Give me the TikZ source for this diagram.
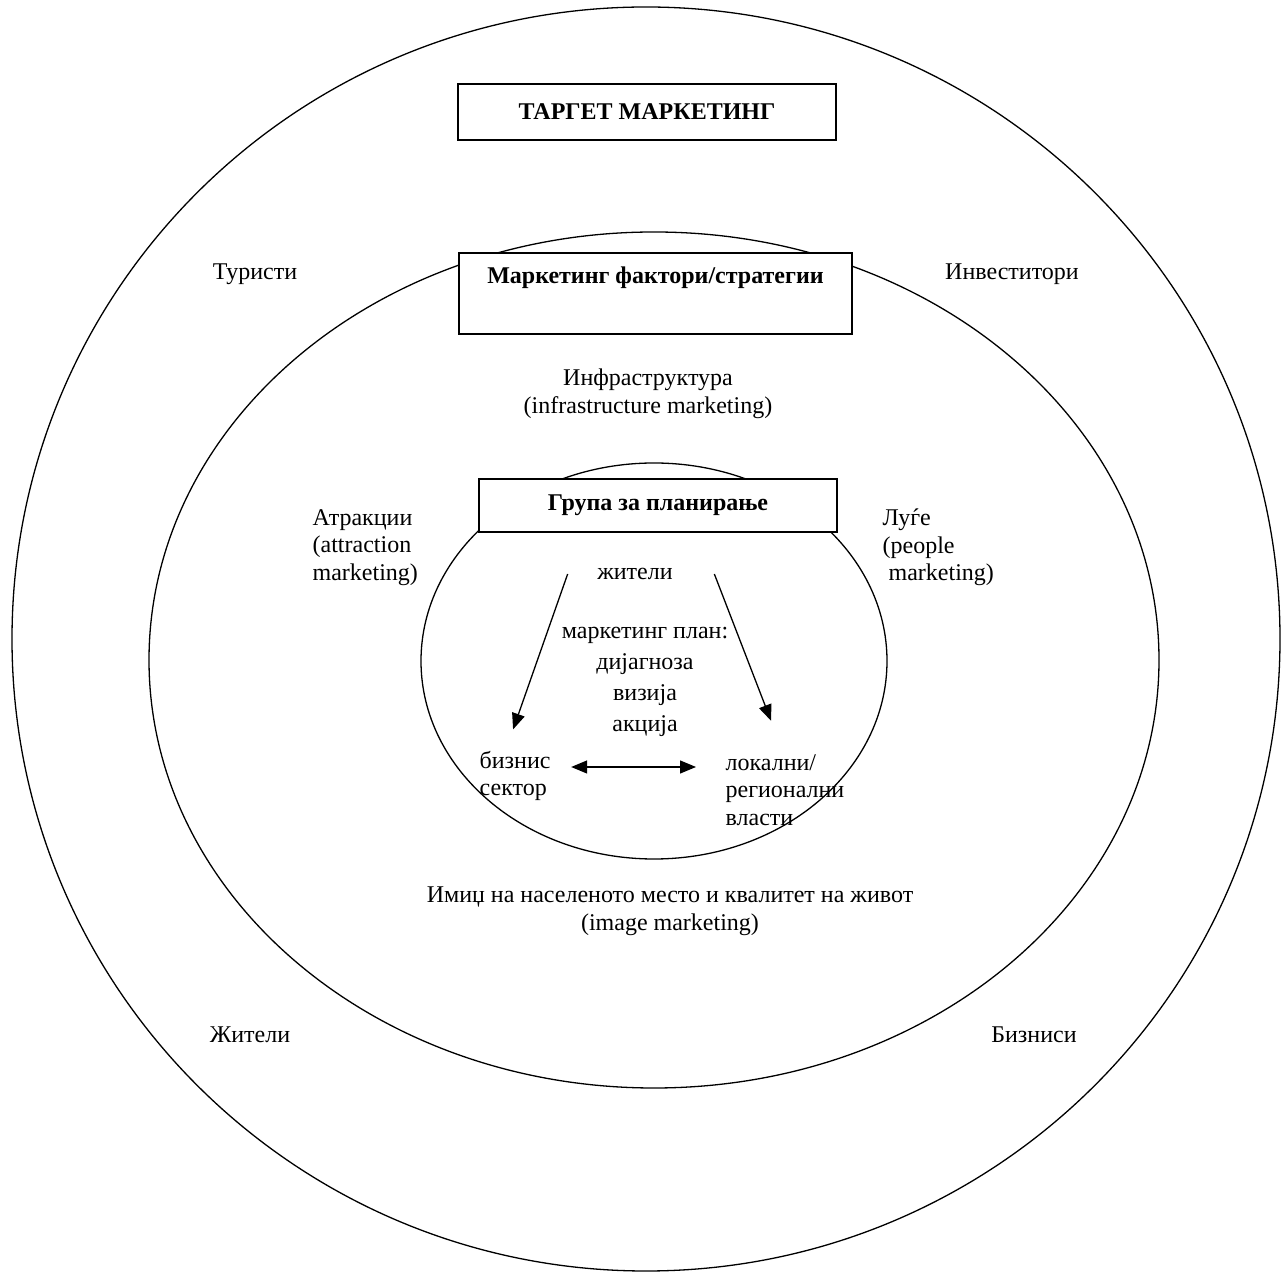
\documentclass[tikz,border=0pt]{standalone}
\usepackage{fontspec}
\setmainfont{Liberation Serif}
\usetikzlibrary{arrows.meta}
\newcommand\taille{\fontsize{24}{27.6}\selectfont}
\tikzset{
  cadre/.style = {draw, line width=1.8pt, fill=white, font=\taille\bfseries, inner sep=0pt},
  fleche/.style = {-{Triangle[length=16pt,width=13pt]}, line width=1.3pt},
  fleches/.style = {{Triangle[length=16pt,width=13pt]}-{Triangle[length=16pt,width=13pt]}, line width=1.3pt},
}
\begin{document}
\begin{tikzpicture}[x=1pt, y=1pt, line width=1.3pt, font=\taille, inner sep=0pt]
  \useasboundingbox (0,0) rectangle (1288,1272);

  % Les ellipses
  \draw (646,633) ellipse (634 and 632);   % cible
  \draw (654,612) ellipse (505 and 428);   % facteurs
  \draw (654,611) ellipse (233 and 198);   % groupe

  % Les cadres
  \node[cadre, minimum width=378pt, minimum height=56pt] (cible) at (647,1160) {ТАРГЕТ МАРКЕТИНГ};
  \node[cadre, minimum width=393pt, minimum height=81pt, align=center] (strat) at (655.5,978.5) {Маркетинг фактори/стратегии\\\strut};
  \node[cadre, minimum width=358pt, minimum height=53pt] (groupe) at (658,766.5) {Група за планирање};

  % Les textes
  \node (tur) at (255,998) {Туристи};
  \node (inv) at (1012,998) {Инвеститори};
  \node (zhi) at (250,237) {Жители};
  \node (bizn) at (1034,237) {Бизниси};
  \node[align=center] (infra) at (648,878) {Инфраструктура\\(infrastructure marketing)};
  \node[align=left, anchor=west] (atr) at (312,724.5) {Атракции\\(attraction\\marketing)};
  \node[align=left, anchor=west] (luge) at (882,724.5) {Луѓе\\(people\\\hspace*{6pt}marketing)};
  \node[align=center] (imic) at (670,361) {Имиџ на населеното место и квалитет на живот\\(image marketing)};

  % Le groupe
  \node (zhit) at (635,698) {жители};
  \node[align=center, font=\fontsize{24}{31}\selectfont] (plan) at (645,590.5) {маркетинг план:\\дијагноза\\визија\\акција};
  \node[align=left, anchor=west] (biz) at (479,496) {бизнис\\сектор};
  \node[align=left, anchor=west] (lok) at (725,482) {локални/\\регионални\\власти};

  % Les flèches
  \draw[fleche] ([xshift=-29pt]zhit.west) -- ([shift={(-2pt,21pt)}]biz.north);
  \draw[fleche] ([xshift=41pt]zhit.east) -- ([shift={(-14pt,33pt)}]lok.north);
  \draw[fleches] ([shift={(20pt,9pt)}]biz.east) -- ([shift={(-29pt,23pt)}]lok.west);

\end{tikzpicture}
\end{document}
